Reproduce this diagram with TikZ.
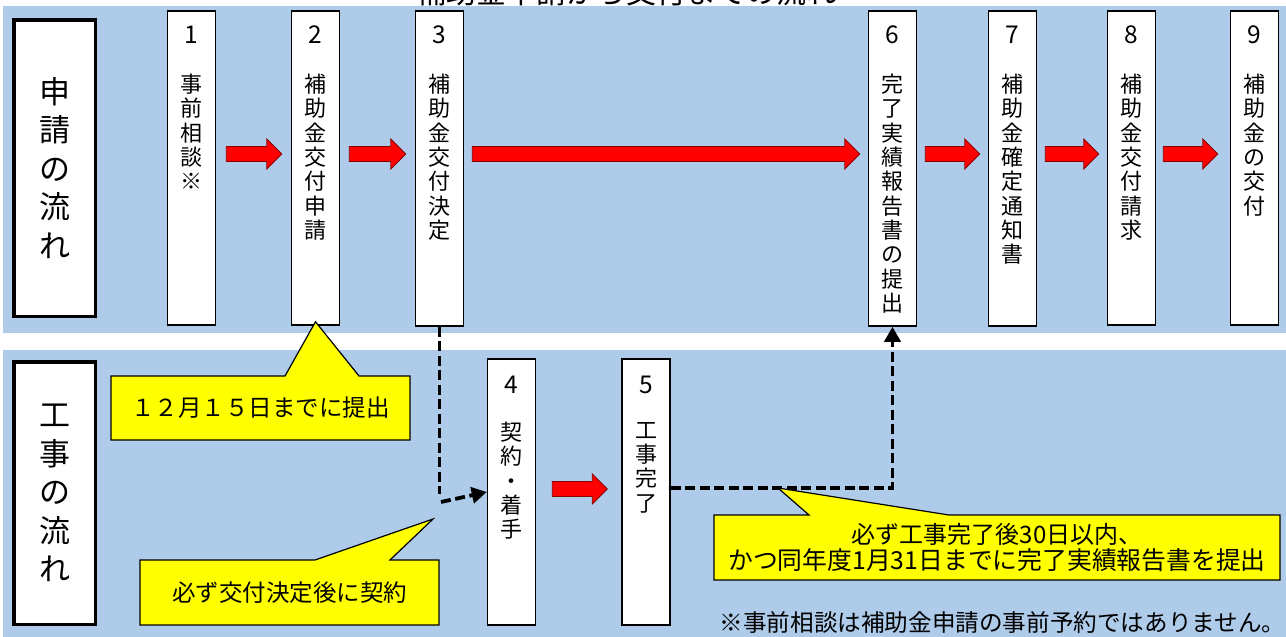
\documentclass[tikz,border=0pt]{standalone}
\usepackage{fontspec}
\setmainfont{Noto Sans CJK JP}
\usetikzlibrary{arrows.meta,calc}
\definecolor{band}{HTML}{AECBEA}
\definecolor{callout}{HTML}{FFFF00}
\definecolor{arrowred}{HTML}{FF0000}
\definecolor{arrowedge}{HTML}{8A0000}
\tikzset{
  stepbox/.style={draw=black, fill=white, line width=1.5pt, minimum width=48pt, inner sep=0pt},
  labelbox/.style={draw=black, fill=white, line width=3.5pt, minimum width=81.5pt, inner sep=0pt},
  numtext/.style={inner sep=0pt, font=\fontsize{24.5}{24.5}\selectfont},
  vtext/.style={inner sep=0pt, align=center, anchor=north, font=\fontsize{22}{24.3}\selectfont},
  bigvtext/.style={inner sep=0pt, align=center, font=\fontsize{31}{38.5}\selectfont},
  redblk/.style={fill=arrowred, draw=arrowedge, line width=0.8pt, line join=miter},
  dashline/.style={draw=black, line width=3.8pt, dash pattern=on 10pt off 4.5pt},
  dasharr/.style={dashline, -{Triangle[length=15pt,width=16pt]}},
  calloutshape/.style={fill=callout, draw=black, line width=1.2pt, line join=miter},
  callouttext/.style={inner sep=0pt, align=center, font=\fontsize{23.5}{26}\selectfont}
}
\newcommand\redblock[2]{%
  \draw[redblk] let \p1=(#1), \p2=(#2) in
    (\x1,\y1+7.5pt) -- (\x2-15pt,\y1+7.5pt) -- (\x2-15pt,\y1+15pt) -- (\x2,\y1)
    -- (\x2-15pt,\y1-15pt) -- (\x2-15pt,\y1-7.5pt) -- (\x1,\y1-7.5pt) -- cycle;}
\begin{document}
\begin{tikzpicture}[x=1pt,y=-1pt]
\useasboundingbox (0,0) rectangle (1286,637);
\fill[white] (0,0) rectangle (1286,637);
% bands
\fill[band] (3,6) rectangle (1286,333);
\fill[band] (3,350) rectangle (1286,637);
% clipped title
\begin{scope}
\clip (0,0) rectangle (1286,6);
\node[inner sep=0pt, anchor=base, font=\fontsize{30}{30}\selectfont] (title) at (626,3) {補助金申請から交付までの流れ};
\end{scope}
% label boxes
\node[labelbox, minimum height=296.5pt] (L1) at (54.5,168) {};
\node[bigvtext] (L1t) at (L1.center) {申\\請\\の\\流\\れ};
\node[labelbox, minimum height=262.5pt] (L2) at (54.5,493) {};
\node[bigvtext] (L2t) at (L2.center) {工\\事\\の\\流\\れ};
% top step boxes
\node[stepbox, minimum height=314pt] (b1) at (191.5,168) {};
\node[stepbox, minimum height=314pt] (b2) at (315.5,168) {};
\node[stepbox, minimum height=315pt] (b3) at (439.5,168.5) {};
\node[stepbox, minimum height=315pt] (b6) at (892.5,168.5) {};
\node[stepbox, minimum height=315pt] (b7) at (1012.5,168.5) {};
\node[stepbox, minimum height=314pt] (b8) at (1131.5,168) {};
\node[stepbox, minimum height=314pt] (b9) at (1254.5,168) {};
% bottom step boxes
\node[stepbox, minimum height=266pt] (b4) at (511.5,492) {};
\node[stepbox, minimum height=266pt] (b5) at (646,492) {};
% numbers and texts
\node[numtext] (n1) at (b1.north |- 0,35) {1};
\node[vtext] (t1) at (b1.north |- 0,74) {事\\前\\相\\談\\※};
\node[numtext] (n2) at (b2.north |- 0,35) {2};
\node[vtext] (t2) at (b2.north |- 0,74) {補\\助\\金\\交\\付\\申\\請};
\node[numtext] (n3) at (b3.north |- 0,35) {3};
\node[vtext] (t3) at (b3.north |- 0,74) {補\\助\\金\\交\\付\\決\\定};
\node[numtext] (n6) at (b6.north |- 0,35) {6};
\node[vtext] (t6) at (b6.north |- 0,74) {完\\了\\実\\績\\報\\告\\書\\の\\提\\出};
\node[numtext] (n7) at (b7.north |- 0,35) {7};
\node[vtext] (t7) at (b7.north |- 0,74) {補\\助\\金\\確\\定\\通\\知\\書};
\node[numtext] (n8) at (b8.north |- 0,35) {8};
\node[vtext] (t8) at (b8.north |- 0,74) {補\\助\\金\\交\\付\\請\\求};
\node[numtext] (n9) at (b9.north |- 0,35) {9};
\node[vtext] (t9) at (b9.north |- 0,74) {補\\助\\金\\の\\交\\付};
\node[numtext] (n4) at (b4.north |- 0,385) {4};
\node[vtext] (t4) at (b4.north |- 0,422) {契\\約\\・\\着\\手};
\node[numtext] (n5) at (b5.north |- 0,385) {5};
\node[vtext] (t5) at (b5.north |- 0,422) {工\\事\\完\\了};
% red block arrows
\coordinate (rowA) at (0,154);
\coordinate (rowB) at (0,489);
\redblock{$(b1.east |- rowA)+(10,0)$}{$(b2.west |- rowA)+(-9,0)$}
\redblock{$(b2.east |- rowA)+(9,0)$}{$(b3.west |- rowA)+(-9,0)$}
\redblock{$(b3.east |- rowA)+(8,0)$}{$(b6.west |- rowA)+(-8,0)$}
\redblock{$(b6.east |- rowA)+(8,0)$}{$(b7.west |- rowA)+(-8,0)$}
\redblock{$(b7.east |- rowA)+(8,0)$}{$(b8.west |- rowA)+(-8,0)$}
\redblock{$(b8.east |- rowA)+(7,0)$}{$(b9.west |- rowA)+(-12,0)$}
\redblock{$(b4.east |- rowB)+(16,0)$}{$(b5.west |- rowB)+(-14,0)$}
% dashed connectors
\coordinate (k1) at (439.5,494);
\coordinate (k2) at (441,502);
\draw[dashline] (b3.south) -- (k1);
\draw[dasharr] (k2) -- (b4.west |- 0,492);
\draw[dasharr] (b5.east |- 0,488) -- (b6.south |- 0,488) -- (b6.south);
% callouts
\draw[calloutshape] (111,376) -- (285,376) -- ([yshift=4pt]b2.south) -- (359,376) -- (410,376) -- (410,440) -- (111,440) -- cycle;
\node[callouttext] (c1) at (260.5,408) {１２月１５日までに提出};
\draw[calloutshape] (140,560) -- (315,560) -- (433,519) -- (390,560) -- (439,560) -- (439,625) -- (140,625) -- cycle;
\node[callouttext] (c2) at (289.5,592.5) {必ず交付決定後に契約};
\draw[calloutshape] (714,515) -- (809,515) -- (778,488) -- (949,515) -- (1280,515) -- (1280,580) -- (714,580) -- cycle;
\node[callouttext, font=\fontsize{24}{26}\selectfont] (c3) at (997,548) {必ず工事完了後30日以内、\\{\fontsize{24.8}{26}\selectfont かつ同年度1月31日までに完了実績報告書を提出}};
% footnote
\node[inner sep=0pt, anchor=east, font=\fontsize{23.6}{25}\selectfont] (note) at (1285.5,623) {※事前相談は補助金申請の事前予約ではありません。};
\end{tikzpicture}
\end{document}
